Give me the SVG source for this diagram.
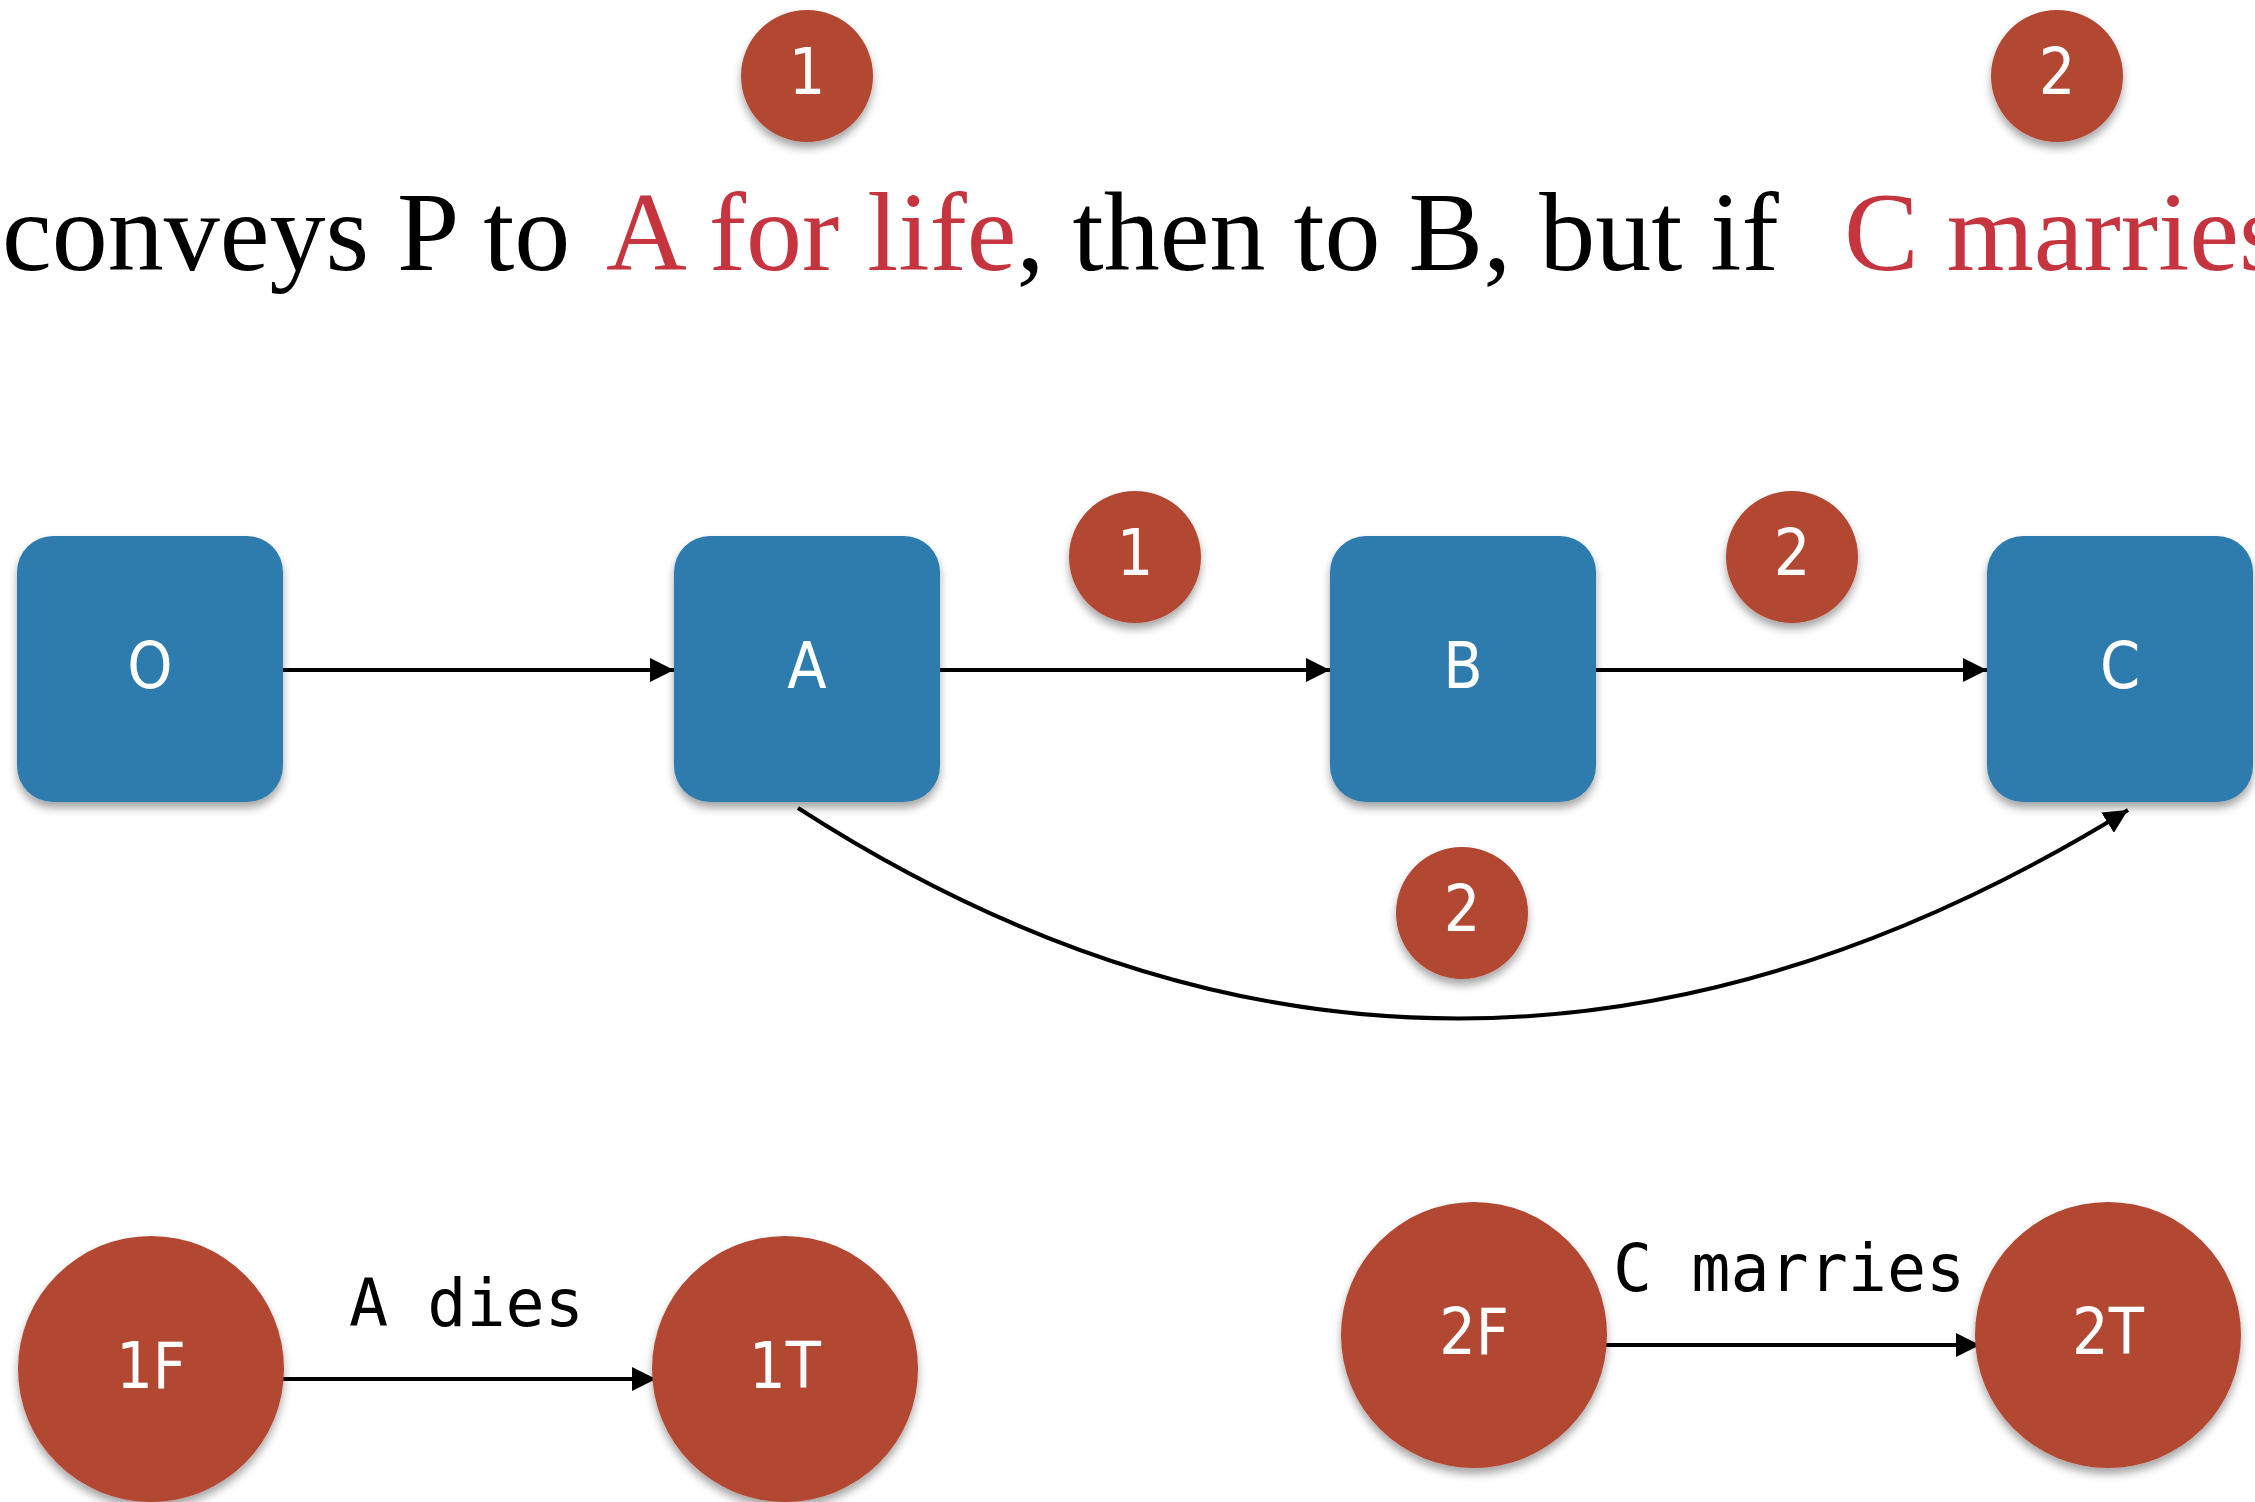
<svg xmlns="http://www.w3.org/2000/svg" width="2255" height="1502" viewBox="0 0 2255 1502">
<style>
.box{fill:#2f7cae}
.red{fill:#b24632}
.lbl{fill:#ffffff;font-family:"DejaVu Sans Condensed","Open Sans",sans-serif;font-size:64px;text-anchor:middle;dominant-baseline:central}
.edge{stroke:#000;stroke-width:4;fill:none}
.mono{font-family:"DejaVu Sans Mono","Liberation Mono",monospace;font-size:65px;fill:#000}
.title{font-family:"Liberation Serif","DejaVu Serif",serif;font-size:112px;fill:#000}
.hl{fill:#c5343f}
</style>
<defs>
<filter id="sh" x="-20%" y="-20%" width="140%" height="150%">
<feDropShadow dx="0" dy="6" stdDeviation="4" flood-color="#000" flood-opacity="0.35"/>
</filter>
<marker id="arr" viewBox="0 0 10 10" refX="10" refY="5" markerWidth="6" markerHeight="6" orient="auto" markerUnits="strokeWidth">
<path d="M0,0 L10,5 L0,10 z" fill="#000"/>
</marker>
</defs>
<rect width="2255" height="1502" fill="#fff"/>
<g id="title">
<text class="title" y="270"><tspan x="2">conveys P to </tspan><tspan x="606" class="hl">A for life</tspan><tspan>, then to B, but if </tspan><tspan x="1844" class="hl">C marries</tspan></text>
</g>
<g id="badge-top-1" filter="url(#sh)"><circle class="red" cx="807" cy="76" r="66"/><text class="lbl" x="807" y="72">1</text></g>
<g id="badge-top-2" filter="url(#sh)"><circle class="red" cx="2057" cy="76" r="66"/><text class="lbl" x="2057" y="72">2</text></g>
<g id="connectors">
<line class="edge" x1="283" y1="670" x2="674" y2="670" marker-end="url(#arr)"/>
<line class="edge" x1="940" y1="670" x2="1330" y2="670" marker-end="url(#arr)"/>
<line class="edge" x1="1596" y1="670" x2="1987" y2="670" marker-end="url(#arr)"/>
<path class="edge" d="M798,808 Q1450,1228 2128,810" marker-end="url(#arr)"/>
<line class="edge" x1="280" y1="1379" x2="656" y2="1379" marker-end="url(#arr)"/>
<line class="edge" x1="1603" y1="1345" x2="1980" y2="1345" marker-end="url(#arr)"/>
</g>
<g id="node-O" filter="url(#sh)"><rect class="box" x="17" y="536" width="266" height="266" rx="36"/><text class="lbl" x="150" y="666">O</text></g>
<g id="node-A" filter="url(#sh)"><rect class="box" x="674" y="536" width="266" height="266" rx="36"/><text class="lbl" x="807" y="666">A</text></g>
<g id="node-B" filter="url(#sh)"><rect class="box" x="1330" y="536" width="266" height="266" rx="36"/><text class="lbl" x="1463" y="666">B</text></g>
<g id="node-C" filter="url(#sh)"><rect class="box" x="1987" y="536" width="266" height="266" rx="36"/><text class="lbl" x="2120" y="666">C</text></g>
<g id="badge-AB-1" filter="url(#sh)"><circle class="red" cx="1135" cy="557" r="66"/><text class="lbl" x="1135" y="553">1</text></g>
<g id="badge-BC-2" filter="url(#sh)"><circle class="red" cx="1792" cy="557" r="66"/><text class="lbl" x="1792" y="553">2</text></g>
<g id="badge-AC-2" filter="url(#sh)"><circle class="red" cx="1462" cy="913" r="66"/><text class="lbl" x="1462" y="909">2</text></g>
<g id="node-1F" filter="url(#sh)"><circle class="red" cx="151" cy="1369" r="133"/><text class="lbl" x="151" y="1366">1F</text></g>
<g id="node-1T" filter="url(#sh)"><circle class="red" cx="785" cy="1369" r="133"/><text class="lbl" x="785" y="1366">1T</text></g>
<g id="node-2F" filter="url(#sh)"><circle class="red" cx="1474" cy="1335" r="133"/><text class="lbl" x="1474" y="1332">2F</text></g>
<g id="node-2T" filter="url(#sh)"><circle class="red" cx="2108" cy="1335" r="133"/><text class="lbl" x="2108" y="1332">2T</text></g>
<g id="edge-labels">
<text class="mono" x="349" y="1326">A dies</text>
<text class="mono" x="1613" y="1291">C marries</text>
</g>
</svg>
